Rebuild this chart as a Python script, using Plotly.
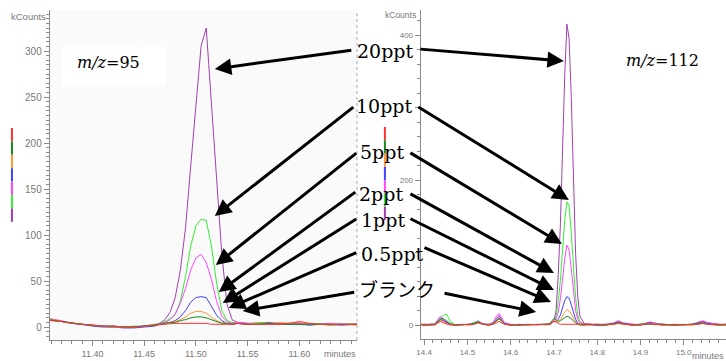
import plotly.graph_objects as go

W, H = 726, 361

# ---------------- data ----------------
series_names = ["ブランク", "0.5ppt", "1ppt", "2ppt", "5ppt", "10ppt", "20ppt"]
series_colors = ["#ff3030", "#1a8a1a", "#ff9933", "#4040ff", "#ff44ff", "#33ee33", "#a040b0"]

# m/z=95 panel (retention time, minutes)
t_left = [11.358, 11.37, 11.38, 11.39, 11.40, 11.41, 11.42, 11.43, 11.44, 11.45, 11.46, 11.465,
          11.47, 11.475, 11.48, 11.485, 11.49, 11.495, 11.50, 11.505, 11.51, 11.515, 11.52, 11.525,
          11.53, 11.535, 11.54, 11.55, 11.56, 11.57, 11.58, 11.59, 11.60, 11.61, 11.62, 11.63, 11.64, 11.656]
left_blank = [7, 6, 4, 3, 2, 1, 1, 0, 0, 1, 2, 3, 3, 4, 4, 4, 4, 4, 4, 4, 4, 3, 3, 3, 3, 3, 4, 3, 3, 3, 3, 4, 6, 4, 3, 3, 3, 3]
left_05 = [8, 6, 5, 3, 2, 1, 1, 0, 0, 1, 2, 3, 4, 5, 5, 7, 8, 10, 11, 11, 10, 8, 6, 4, 4, 3, 4, 3, 3, 4, 3, 3, 3, 3, 3, 2, 3, 3]
left_1 = [9, 6, 4, 3, 2, 1, 0, 0, 0, 1, 2, 3, 4, 5, 6, 8, 11, 15, 17, 17, 15, 11, 7, 5, 4, 3, 4, 3, 4, 3, 5, 4, 5, 3, 3, 3, 3, 2]
left_2 = [8, 6, 4, 2, 1, 0, 0, -1, -1, 0, 1, 3, 4, 5, 7, 11, 18, 27, 32, 33, 32, 23, 13, 7, 4, 3, 4, 3, 3, 4, 3, 3, 3, 2, 3, 3, 2, 3]
left_5 = [9, 7, 4, 3, 2, 1, 1, 0, 0, 1, 2, 4, 5, 8, 14, 26, 42, 62, 75, 79, 70, 52, 28, 12, 6, 4, 5, 4, 4, 3, 4, 3, 4, 3, 3, 4, 3, 3]
left_10 = [8, 6, 4, 3, 2, 1, 0, 0, 1, 1, 3, 4, 6, 9, 14, 28, 55, 88, 110, 117, 116, 88, 48, 18, 7, 5, 4, 3, 5, 4, 3, 4, 3, 3, 4, 3, 3, 3]
left_20 = [9, 6, 4, 3, 2, 1, 0, 0, 0, 1, 2, 4, 8, 16, 32, 62, 108, 175, 245, 305, 325, 245, 160, 80, 25, 8, 5, 4, 4, 5, 4, 4, 3, 4, 3, 3, 3, 3]

# m/z=112 panel
t_right = [14.392, 14.40, 14.415, 14.425, 14.432, 14.438, 14.444, 14.452, 14.46, 14.47, 14.49, 14.505,
           14.515, 14.525, 14.535, 14.55, 14.56, 14.567, 14.573, 14.579, 14.586, 14.60, 14.62, 14.64,
           14.66, 14.68, 14.69, 14.695, 14.70, 14.705, 14.71, 14.715, 14.72, 14.725, 14.73, 14.735,
           14.74, 14.745, 14.75, 14.755, 14.76, 14.77, 14.78, 14.80, 14.82, 14.838, 14.849, 14.86,
           14.88, 14.90, 14.914, 14.922, 14.93, 14.95, 14.98, 15.00, 15.02, 15.035, 15.044, 15.055, 15.08, 15.098]
right_blank = [0, 0, 1, 0, 3, 5, 3, 1, 0, 0, 0, 0, 1, 3, 1, 0, 1, 3, 5, 3, 1, 0, 0, 0, 0, 0, 1, 3, 5, 4, 2,
               1, 1, 1, 1, 1, 1, 0, 0, 0, 0, 0, 0, 0, 0, 1, 2, 1, 0, 0, 1, 2, 1, 0, 0, 0, 0, 1, 2, 1, 0, 0]
right_05 = [1, 0, 1, 1, 5, 8, 9, 6, 2, 0, 0, 1, 2, 4, 1, 0, 2, 6, 9, 6, 1, 0, 0, 1, 0, 1, 2, 5, 9, 7, 5,
            6, 8, 11, 12, 11, 9, 6, 3, 1, 0, 0, 1, 0, 0, 2, 3, 2, 0, 1, 1, 2, 2, 1, 0, 0, 1, 2, 3, 1, 0, 1]
right_1 = [0, 1, 0, 1, 4, 6, 5, 2, 1, 0, 1, 0, 1, 3, 1, 0, 2, 5, 8, 5, 1, 0, 1, 0, 0, 1, 1, 3, 6, 5, 5,
           8, 13, 18, 21, 20, 15, 9, 4, 2, 1, 0, 0, 1, 0, 1, 3, 1, 0, 1, 1, 2, 2, 0, 0, 1, 0, 2, 3, 1, 0, 0]
right_2 = [1, 0, 0, 1, 4, 7, 6, 3, 1, 0, 0, 1, 2, 4, 1, 0, 2, 7, 10, 6, 2, 0, 0, 1, 0, 0, 1, 2, 5, 5, 8,
           14, 24, 34, 39, 37, 28, 17, 8, 3, 1, 0, 1, 0, 0, 2, 4, 2, 0, 0, 2, 3, 2, 0, 1, 0, 1, 3, 4, 2, 0, 1]
right_5 = [0, 1, 0, 2, 8, 12, 8, 4, 2, 0, 1, 0, 2, 5, 2, 1, 4, 12, 16, 10, 3, 1, 0, 1, 0, 1, 0, 3, 7, 8, 18,
           36, 64, 92, 110, 104, 78, 46, 20, 8, 3, 1, 0, 0, 1, 3, 6, 3, 1, 0, 2, 4, 3, 1, 0, 1, 1, 4, 6, 3, 1, 1]
right_10 = [1, 0, 1, 1, 5, 9, 13, 15, 5, 1, 0, 1, 3, 6, 2, 1, 2, 6, 9, 6, 2, 0, 1, 0, 1, 0, 1, 3, 6, 12, 32,
            62, 105, 145, 170, 165, 128, 78, 38, 14, 5, 1, 0, 1, 0, 1, 4, 2, 0, 1, 2, 3, 2, 1, 0, 1, 0, 3, 4, 2, 1, 0]
right_20 = [1, 1, 0, 1, 6, 10, 6, 3, 1, 0, 0, 1, 2, 5, 2, 0, 3, 9, 13, 7, 2, 0, 0, 1, 0, 1, 1, 3, 6, 20, 70,
            140, 250, 345, 415, 395, 315, 200, 100, 40, 12, 2, 1, 0, 0, 2, 5, 2, 0, 1, 3, 4, 3, 1, 0, 0, 1, 4, 5, 3, 1, 0]

left_series = [left_blank, left_05, left_1, left_2, left_5, left_10, left_20]
right_series = [right_blank, right_05, right_1, right_2, right_5, right_10, right_20]

left_xticks = [11.40, 11.45, 11.50, 11.55, 11.60]
right_xticks = [14.4, 14.5, 14.6, 14.7, 14.8, 14.9, 15.0]
right_yticks = [0, 100, 200, 300, 400]
right_ytext = ["0", "", "200", "", "400"]   # 100 and 300 are hidden behind the labels in the original

panel_titles = ["<i>m/z</i>=95", "<i>m/z</i>=112"]
y_unit = "kCounts"
x_unit = "minutes"

# ---------------- helpers ----------------
def px(x):
    return x / W

def py(y):
    return 1 - y / H

GRAY = "#8a8a8a"
TICKFONT = "Liberation Sans, Arial, sans-serif"
SERIF = "DejaVu Serif, 'Noto Sans CJK JP', serif"

fig = go.Figure()

for vals, col in zip(left_series[::-1], series_colors[::-1]):
    fig.add_trace(go.Scatter(x=t_left, y=vals, mode="lines", line=dict(color=col, width=1),
                             xaxis="x", yaxis="y", showlegend=False, hoverinfo="skip"))
for vals, col in zip(right_series[::-1], series_colors[::-1]):
    fig.add_trace(go.Scatter(x=t_right, y=vals, mode="lines", line=dict(color=col, width=1),
                             xaxis="x2", yaxis="y2", showlegend=False, hoverinfo="skip"))

axis_common = dict(showgrid=False, zeroline=False, showline=True, linecolor=GRAY, linewidth=1,
                   ticks="outside", tickcolor=GRAY, ticklen=5, tickwidth=1)

fig.update_layout(
    width=W, height=H, autosize=False,
    margin=dict(l=0, r=0, t=0, b=0, pad=0),
    paper_bgcolor="white", plot_bgcolor="rgba(0,0,0,0)",
    showlegend=False,
    xaxis=dict(domain=[px(46), px(355)], range=[11.3587, 11.6558], anchor="y",
               tickmode="array", tickvals=left_xticks, ticktext=[f"{v:.2f}" for v in left_xticks],
               tickfont=dict(family=TICKFONT, size=9, color="#777"),
               minor=dict(dtick=0.01, tick0=11.40, ticks="outside", ticklen=3, tickcolor=GRAY),
               **axis_common),
    yaxis=dict(domain=[py(340), py(10)], range=[-14.1, 344.6], anchor="x",
               dtick=50, tick0=0,
               tickfont=dict(family=TICKFONT, size=10, color="#777"),
               minor=dict(dtick=5, tick0=0, ticks="outside", ticklen=3, tickcolor=GRAY),
               **axis_common),
    xaxis2=dict(domain=[px(419), 1.0], range=[14.392, 15.0977], anchor="y2",
                tickmode="array", tickvals=right_xticks, ticktext=[f"{v:.1f}" for v in right_xticks],
                tickfont=dict(family=TICKFONT, size=8, color="#777"),
                minor=dict(dtick=0.02, tick0=14.4, ticks="outside", ticklen=3, tickcolor=GRAY),
                **axis_common),
    yaxis2=dict(domain=[py(339), py(10)], range=[-19.3, 434.5], anchor="x2",
                tickmode="array", tickvals=right_yticks, ticktext=right_ytext,
                tickfont=dict(family=TICKFONT, size=8, color="#777"),
                minor=dict(dtick=20, tick0=0, ticks="outside", ticklen=3, tickcolor=GRAY),
                **axis_common),
)

shapes = []
# light background of left panel
shapes.append(dict(type="rect", xref="paper", yref="paper", x0=px(46), x1=px(355), y0=py(340), y1=py(10),
                   fillcolor="#fafafa", line=dict(width=0), layer="below"))
# white box behind m/z=95
shapes.append(dict(type="rect", xref="paper", yref="paper", x0=px(58), x1=px(163), y0=py(85), y1=py(47),
                   fillcolor="white", line=dict(width=0), layer="below"))
# dotted right border of left panel
shapes.append(dict(type="line", xref="paper", yref="paper", x0=px(355), x1=px(355), y0=py(340), y1=py(10),
                   line=dict(color="#aaaaaa", width=1, dash="dot")))
# colour strips (legend keys)
for strip_x, strip_y0, seg in [(8, 128, 13.4), (383, 127, 13.3)]:
    for i, col in enumerate(series_colors):
        shapes.append(dict(type="line", xref="paper", yref="paper", x0=px(strip_x), x1=px(strip_x),
                           y0=py(strip_y0 + i * seg), y1=py(strip_y0 + (i + 1) * seg),
                           line=dict(color=col, width=2)))
fig.update_layout(shapes=shapes)

ann = []
# panel titles
ann.append(dict(x=px(105), y=py(62), xref="paper", yref="paper", text=panel_titles[0], showarrow=False,
                font=dict(family=SERIF, size=16, color="black"), xanchor="center", yanchor="middle"))
ann.append(dict(x=px(662), y=py(61), xref="paper", yref="paper", text=panel_titles[1], showarrow=False,
                font=dict(family=SERIF, size=16, color="black"), xanchor="center", yanchor="middle"))
# unit labels
ann.append(dict(x=px(44), y=py(17), xref="paper", yref="paper", text=y_unit, showarrow=False,
                font=dict(family=TICKFONT, size=9.5, color="#777"), xanchor="right", yanchor="middle"))
ann.append(dict(x=px(416), y=py(15), xref="paper", yref="paper", text=y_unit, showarrow=False,
                font=dict(family=TICKFONT, size=8.5, color="#777"), xanchor="right", yanchor="middle"))
ann.append(dict(x=px(338), y=py(354), xref="paper", yref="paper", text=x_unit, showarrow=False,
                font=dict(family=TICKFONT, size=9, color="#777"), xanchor="center", yanchor="middle"))
ann.append(dict(x=px(726), y=py(356), xref="paper", yref="paper", text=x_unit, showarrow=False,
                font=dict(family=TICKFONT, size=9, color="#777"), xanchor="right", yanchor="middle"))

# concentration labels: left edge x, centre y
label_pos = {"20ppt": (353, 51), "10ppt": (352, 106), "5ppt": (356, 152), "2ppt": (355, 194),
             "1ppt": (357, 220), "0.5ppt": (357, 254), "ブランク": (355, 290)}
for name in series_names:
    lx, ly = label_pos[name]
    ann.append(dict(x=px(lx), y=py(ly), xref="paper", yref="paper", text=name, showarrow=False,
                    font=dict(family=SERIF, size=19, color="black"), xanchor="left", yanchor="middle"))

# arrows: (tip_x, tip_y, tail_x, tail_y)
arrows = [
    (212, 69, 350, 50), (212, 216, 352, 106), (213, 265, 355, 152), (216, 292, 354, 191),
    (220, 303, 355, 218), (226, 308, 355, 252), (240, 311, 353, 292),
    (563, 61, 418, 49), (568, 200, 416, 106), (561, 244, 408, 152), (553, 273, 408, 193),
    (553, 290, 408, 218), (550, 302, 422, 247), (535, 312, 442, 293),
]
for tx, ty, sx, sy in arrows:
    ann.append(dict(x=px(tx), y=py(ty), xref="paper", yref="paper", ax=sx - tx, ay=sy - ty,
                    axref="pixel", ayref="pixel", text="", showarrow=True, arrowhead=2,
                    arrowsize=1.1, arrowwidth=3, arrowcolor="black", standoff=0))
fig.update_layout(annotations=ann)

fig.write_html("out.html")
